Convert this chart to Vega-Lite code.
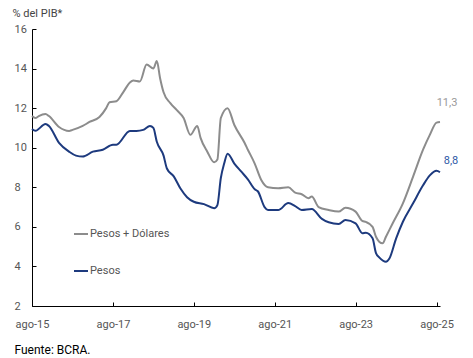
{
  "$schema": "https://vega.github.io/schema/vega-lite/v6.json",
  "width": 408,
  "height": 277,
  "autosize": "none",
  "padding": {"left": 32, "top": 29, "right": 33, "bottom": 52},
  "background": "white",
  "config": {
    "view": {"stroke": null},
    "font": "Roboto",
    "axis": {"grid": false, "domainColor": "#000000", "tickColor": "#000000", "labelFont": "Roboto", "labelFontSize": 11, "labelColor": "#555555", "labelOverlap": false, "tickSize": -4, "tickWidth": 1, "labelFlush": false},
    "axisY": {"labelAlign": "left", "labelPadding": 22, "labelBound": false, "labelOverlap": false},
    "axisX": {"labelPadding": 16, "labelOverlap": false}
  },
  "datasets": {
    "series": [
      {"serie": "Pesos + Dólares", "date": "2015-08-01", "value": 11.6},
      {"serie": "Pesos + Dólares", "date": "2015-09-01", "value": 11.5},
      {"serie": "Pesos + Dólares", "date": "2015-10-01", "value": 11.6},
      {"serie": "Pesos + Dólares", "date": "2015-12-01", "value": 11.7},
      {"serie": "Pesos + Dólares", "date": "2016-01-01", "value": 11.6},
      {"serie": "Pesos + Dólares", "date": "2016-04-01", "value": 11.05},
      {"serie": "Pesos + Dólares", "date": "2016-07-01", "value": 10.85},
      {"serie": "Pesos + Dólares", "date": "2016-08-01", "value": 10.9},
      {"serie": "Pesos + Dólares", "date": "2016-11-01", "value": 11.1},
      {"serie": "Pesos + Dólares", "date": "2017-01-01", "value": 11.3},
      {"serie": "Pesos + Dólares", "date": "2017-04-01", "value": 11.55},
      {"serie": "Pesos + Dólares", "date": "2017-06-01", "value": 12.0},
      {"serie": "Pesos + Dólares", "date": "2017-07-01", "value": 12.3},
      {"serie": "Pesos + Dólares", "date": "2017-09-01", "value": 12.35},
      {"serie": "Pesos + Dólares", "date": "2017-11-01", "value": 12.8},
      {"serie": "Pesos + Dólares", "date": "2018-01-01", "value": 13.3},
      {"serie": "Pesos + Dólares", "date": "2018-02-01", "value": 13.4},
      {"serie": "Pesos + Dólares", "date": "2018-04-01", "value": 13.35},
      {"serie": "Pesos + Dólares", "date": "2018-06-01", "value": 14.2},
      {"serie": "Pesos + Dólares", "date": "2018-08-01", "value": 14.0},
      {"serie": "Pesos + Dólares", "date": "2018-09-01", "value": 14.38},
      {"serie": "Pesos + Dólares", "date": "2018-10-01", "value": 13.5},
      {"serie": "Pesos + Dólares", "date": "2018-11-01", "value": 12.8},
      {"serie": "Pesos + Dólares", "date": "2019-01-01", "value": 12.25},
      {"serie": "Pesos + Dólares", "date": "2019-03-01", "value": 11.9},
      {"serie": "Pesos + Dólares", "date": "2019-05-01", "value": 11.5},
      {"serie": "Pesos + Dólares", "date": "2019-07-01", "value": 10.65},
      {"serie": "Pesos + Dólares", "date": "2019-09-01", "value": 11.1},
      {"serie": "Pesos + Dólares", "date": "2019-10-01", "value": 10.5},
      {"serie": "Pesos + Dólares", "date": "2019-12-01", "value": 9.8},
      {"serie": "Pesos + Dólares", "date": "2020-02-01", "value": 9.26},
      {"serie": "Pesos + Dólares", "date": "2020-03-01", "value": 9.4},
      {"serie": "Pesos + Dólares", "date": "2020-04-01", "value": 11.5},
      {"serie": "Pesos + Dólares", "date": "2020-06-01", "value": 12.0},
      {"serie": "Pesos + Dólares", "date": "2020-08-01", "value": 11.15},
      {"serie": "Pesos + Dólares", "date": "2020-11-01", "value": 10.25},
      {"serie": "Pesos + Dólares", "date": "2020-12-01", "value": 9.9},
      {"serie": "Pesos + Dólares", "date": "2021-02-01", "value": 9.2},
      {"serie": "Pesos + Dólares", "date": "2021-04-01", "value": 8.37},
      {"serie": "Pesos + Dólares", "date": "2021-06-01", "value": 8.0},
      {"serie": "Pesos + Dólares", "date": "2021-09-01", "value": 7.95},
      {"serie": "Pesos + Dólares", "date": "2021-12-01", "value": 8.0},
      {"serie": "Pesos + Dólares", "date": "2022-02-01", "value": 7.73},
      {"serie": "Pesos + Dólares", "date": "2022-04-01", "value": 7.65},
      {"serie": "Pesos + Dólares", "date": "2022-06-01", "value": 7.45},
      {"serie": "Pesos + Dólares", "date": "2022-07-01", "value": 7.53},
      {"serie": "Pesos + Dólares", "date": "2022-09-01", "value": 7.0},
      {"serie": "Pesos + Dólares", "date": "2022-12-01", "value": 6.85},
      {"serie": "Pesos + Dólares", "date": "2023-03-01", "value": 6.77},
      {"serie": "Pesos + Dólares", "date": "2023-05-01", "value": 6.97},
      {"serie": "Pesos + Dólares", "date": "2023-08-01", "value": 6.77},
      {"serie": "Pesos + Dólares", "date": "2023-10-01", "value": 6.3},
      {"serie": "Pesos + Dólares", "date": "2023-11-01", "value": 6.25},
      {"serie": "Pesos + Dólares", "date": "2024-01-01", "value": 6.0},
      {"serie": "Pesos + Dólares", "date": "2024-02-01", "value": 5.5},
      {"serie": "Pesos + Dólares", "date": "2024-03-01", "value": 5.25},
      {"serie": "Pesos + Dólares", "date": "2024-04-01", "value": 5.17},
      {"serie": "Pesos + Dólares", "date": "2024-05-01", "value": 5.5},
      {"serie": "Pesos + Dólares", "date": "2024-07-01", "value": 6.18},
      {"serie": "Pesos + Dólares", "date": "2024-10-01", "value": 7.19},
      {"serie": "Pesos + Dólares", "date": "2025-01-01", "value": 8.54},
      {"serie": "Pesos + Dólares", "date": "2025-04-01", "value": 9.9},
      {"serie": "Pesos + Dólares", "date": "2025-06-01", "value": 10.65},
      {"serie": "Pesos + Dólares", "date": "2025-08-01", "value": 11.27},
      {"serie": "Pesos + Dólares", "date": "2025-09-01", "value": 11.3},
      {"serie": "Pesos", "date": "2015-08-01", "value": 10.95},
      {"serie": "Pesos", "date": "2015-09-01", "value": 10.86},
      {"serie": "Pesos", "date": "2015-12-01", "value": 11.2},
      {"serie": "Pesos", "date": "2016-01-01", "value": 11.1},
      {"serie": "Pesos", "date": "2016-04-01", "value": 10.25},
      {"serie": "Pesos", "date": "2016-07-01", "value": 9.8},
      {"serie": "Pesos", "date": "2016-09-01", "value": 9.6},
      {"serie": "Pesos", "date": "2016-11-01", "value": 9.55},
      {"serie": "Pesos", "date": "2017-02-01", "value": 9.8},
      {"serie": "Pesos", "date": "2017-05-01", "value": 9.9},
      {"serie": "Pesos", "date": "2017-08-01", "value": 10.15},
      {"serie": "Pesos", "date": "2017-09-01", "value": 10.15},
      {"serie": "Pesos", "date": "2018-01-01", "value": 10.85},
      {"serie": "Pesos", "date": "2018-03-01", "value": 10.85},
      {"serie": "Pesos", "date": "2018-05-01", "value": 10.9},
      {"serie": "Pesos", "date": "2018-07-01", "value": 11.1},
      {"serie": "Pesos", "date": "2018-08-01", "value": 11.0},
      {"serie": "Pesos", "date": "2018-09-01", "value": 10.3},
      {"serie": "Pesos", "date": "2018-11-01", "value": 9.6},
      {"serie": "Pesos", "date": "2018-12-01", "value": 8.95},
      {"serie": "Pesos", "date": "2019-02-01", "value": 8.55},
      {"serie": "Pesos", "date": "2019-04-01", "value": 7.95},
      {"serie": "Pesos", "date": "2019-06-01", "value": 7.5},
      {"serie": "Pesos", "date": "2019-08-01", "value": 7.27},
      {"serie": "Pesos", "date": "2019-11-01", "value": 7.15},
      {"serie": "Pesos", "date": "2020-02-01", "value": 6.94},
      {"serie": "Pesos", "date": "2020-03-01", "value": 7.1},
      {"serie": "Pesos", "date": "2020-04-01", "value": 8.47},
      {"serie": "Pesos", "date": "2020-05-01", "value": 9.2},
      {"serie": "Pesos", "date": "2020-06-01", "value": 9.7},
      {"serie": "Pesos", "date": "2020-08-01", "value": 9.2},
      {"serie": "Pesos", "date": "2020-10-01", "value": 8.8},
      {"serie": "Pesos", "date": "2020-12-01", "value": 8.4},
      {"serie": "Pesos", "date": "2021-02-01", "value": 7.9},
      {"serie": "Pesos", "date": "2021-03-01", "value": 7.8},
      {"serie": "Pesos", "date": "2021-05-01", "value": 7.0},
      {"serie": "Pesos", "date": "2021-06-01", "value": 6.85},
      {"serie": "Pesos", "date": "2021-09-01", "value": 6.85},
      {"serie": "Pesos", "date": "2021-12-01", "value": 7.2},
      {"serie": "Pesos", "date": "2022-02-01", "value": 7.05},
      {"serie": "Pesos", "date": "2022-04-01", "value": 6.85},
      {"serie": "Pesos", "date": "2022-07-01", "value": 6.9},
      {"serie": "Pesos", "date": "2022-10-01", "value": 6.4},
      {"serie": "Pesos", "date": "2022-12-01", "value": 6.23},
      {"serie": "Pesos", "date": "2023-03-01", "value": 6.15},
      {"serie": "Pesos", "date": "2023-05-01", "value": 6.35},
      {"serie": "Pesos", "date": "2023-08-01", "value": 6.18},
      {"serie": "Pesos", "date": "2023-10-01", "value": 5.68},
      {"serie": "Pesos", "date": "2023-11-01", "value": 5.7},
      {"serie": "Pesos", "date": "2024-01-01", "value": 5.42},
      {"serie": "Pesos", "date": "2024-02-01", "value": 4.67},
      {"serie": "Pesos", "date": "2024-03-01", "value": 4.46},
      {"serie": "Pesos", "date": "2024-05-01", "value": 4.24},
      {"serie": "Pesos", "date": "2024-06-01", "value": 4.4},
      {"serie": "Pesos", "date": "2024-08-01", "value": 5.42},
      {"serie": "Pesos", "date": "2024-10-01", "value": 6.26},
      {"serie": "Pesos", "date": "2025-01-01", "value": 7.19},
      {"serie": "Pesos", "date": "2025-04-01", "value": 8.1},
      {"serie": "Pesos", "date": "2025-06-01", "value": 8.6},
      {"serie": "Pesos", "date": "2025-08-01", "value": 8.83},
      {"serie": "Pesos", "date": "2025-09-01", "value": 8.76}
    ],
    "labels": [
      {"serie": "Pesos + Dólares", "date": "2025-09-01", "value": 11.3, "label": "11,3"},
      {"serie": "Pesos", "date": "2025-09-01", "value": 8.76, "label": "8,8"}
    ]
  },
  "encoding": {
    "x": {
      "field": "date", "type": "temporal",
      "scale": {"type": "utc", "domain": [{"year": 2015, "month": 8, "date": 1, "utc": true}, {"year": 2025, "month": 9, "date": 1, "utc": true}]},
      "axis": {
        "values": [
          {"year": 2015, "month": 8, "date": 1, "utc": true},
          {"year": 2017, "month": 8, "date": 1, "utc": true},
          {"year": 2019, "month": 8, "date": 1, "utc": true},
          {"year": 2021, "month": 8, "date": 1, "utc": true},
          {"year": 2023, "month": 8, "date": 1, "utc": true},
          {"year": 2025, "month": 8, "date": 1, "utc": true}
        ],
        "labelExpr": "'ago-' + utcFormat(datum.value, '%y')",
        "title": "Fuente: BCRA.",
        "titleFont": "Roboto",
        "titleFontSize": 12,
        "titleFontWeight": "normal",
        "titleColor": "#000000",
        "titleAnchor": "start",
        "titleAlign": "left",
        "titleBaseline": "middle",
        "titleX": -18,
        "titleY": 43
      }
    },
    "y": {
      "field": "value", "type": "quantitative",
      "scale": {"domain": [2, 16], "nice": false, "zero": false},
      "axis": {
        "values": [2, 4, 6, 8, 10, 12, 14, 16],
        "title": "% del PIB*",
        "titleFont": "Roboto",
        "titleFontSize": 11,
        "titleFontWeight": "normal",
        "titleColor": "#444444",
        "titleAngle": 0,
        "titleAlign": "left",
        "titleBaseline": "middle",
        "titleX": -20,
        "titleY": -16
      }
    }
  },
  "layer": [
    {
      "data": {"name": "series"},
      "mark": {"type": "line", "strokeWidth": 2, "interpolate": "monotone"},
      "encoding": {
        "color": {
          "field": "serie", "type": "nominal",
          "scale": {"domain": ["Pesos + Dólares", "Pesos"], "range": ["#8c8c8c", "#1d3a7e"]},
          "legend": {
            "orient": "none",
            "legendX": 41,
            "legendY": 197,
            "title": null,
            "symbolType": "stroke",
            "symbolSize": 196,
            "symbolStrokeWidth": 2,
            "labelFont": "Roboto",
            "labelFontSize": 11,
            "labelColor": "#555555",
            "labelOffset": 1,
            "rowPadding": 24
          }
        }
      }
    },
    {
      "data": {"name": "labels"},
      "transform": [{"filter": "datum.label == '11,3'"}],
      "mark": {"type": "text", "align": "center", "baseline": "middle", "dx": 7, "dy": -19, "fontSize": 11, "font": "Roboto", "color": "#999999"},
      "encoding": {
        "text": {"field": "label"}
      }
    },
    {
      "data": {"name": "labels"},
      "transform": [{"filter": "datum.label == '8,8'"}],
      "mark": {"type": "text", "align": "center", "baseline": "middle", "dx": 11, "dy": -11, "fontSize": 11, "font": "Roboto", "color": "#2f5aa6"},
      "encoding": {
        "text": {"field": "label"}
      }
    }
  ]
}
